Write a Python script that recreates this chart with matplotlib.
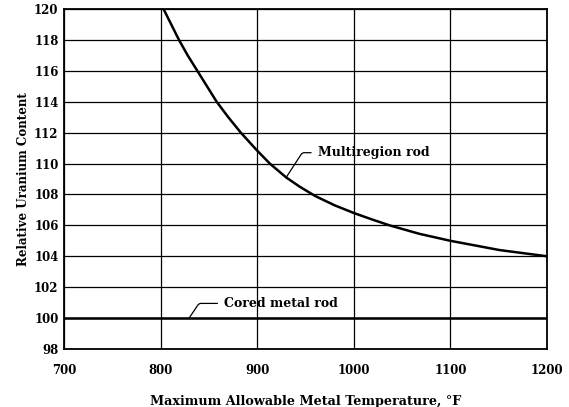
import matplotlib

matplotlib.use("Agg")
import matplotlib.pyplot as plt

# values
multi_temp = [803, 811, 819, 828, 838, 848, 858, 870, 883, 899, 913, 930, 944, 960,
              980, 1000, 1018, 1037, 1068, 1100, 1151, 1200]
multi_content = [120.0, 119.0, 118.0, 117.0, 116.0, 115.0, 114.0, 113.0, 112.0, 110.9,
                 110.0, 109.1, 108.5, 107.9, 107.3, 106.8, 106.4, 106.0, 105.45, 105.0,
                 104.4, 104.0]
cored_temp = [700, 1200]
cored_content = [100.0, 100.0]

x_ticks = [700, 800, 900, 1000, 1100, 1200]
y_ticks = list(range(98, 121, 2))

plt.rcParams["font.family"] = ["DejaVu Serif"]
plt.rcParams["font.weight"] = "bold"

fig = plt.figure(figsize=(5.69, 4.07), dpi=100)
ax = fig.add_axes([0.1125, 0.1425, 0.8488, 0.8355])

ax.plot(multi_temp, multi_content, color="black", linewidth=1.8,
        solid_joinstyle="round")
ax.plot(cored_temp, cored_content, color="black", linewidth=1.8)

ax.set_xlim(700, 1200)
ax.set_ylim(98, 120)
ax.set_xticks(x_ticks)
ax.set_yticks(y_ticks)
ax.grid(True, color="black", linewidth=0.9)
ax.set_axisbelow(True)
for spine in ax.spines.values():
    spine.set_linewidth(1.3)
ax.tick_params(axis="both", length=0, labelsize=8.5)
ax.tick_params(axis="x", pad=11)
ax.tick_params(axis="y", pad=4)
for lbl in ax.get_xticklabels() + ax.get_yticklabels():
    lbl.set_fontweight("bold")

ax.set_xlabel("Maximum Allowable Metal Temperature, °F", fontsize=9.2,
              fontweight="bold", labelpad=13)
ax.set_ylabel("Relative Uranium Content", fontsize=8.6, fontweight="bold",
              labelpad=3)

for label, point, text_pos, angle in [
    ("Multiregion rod", (930, 109.1), (963, 110.7), 57),
    ("Cored metal rod", (829.5, 100.0), (866, 100.95), 56),
]:
    ax.annotate(
        label,
        xy=point,
        xytext=text_pos,
        fontsize=9,
        fontweight="bold",
        va="center",
        ha="left",
        arrowprops=dict(
            arrowstyle="-",
            color="black",
            linewidth=0.9,
            relpos=(0, 0.5),
            shrinkA=3,
            shrinkB=0,
            connectionstyle=f"angle,angleA=0,angleB={angle},rad=2",
        ),
    )

fig.savefig("out.png", dpi=100, facecolor="white")
